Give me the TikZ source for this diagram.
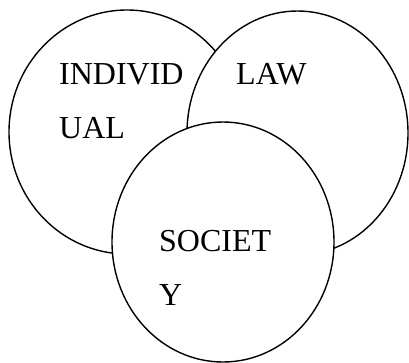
\documentclass[tikz,border=0pt]{standalone}
\usepackage{fontspec}
\setmainfont{Liberation Serif}
\usetikzlibrary{shapes.geometric}

\begin{document}
\begin{tikzpicture}[x=1pt, y=-1pt,
  ring/.style={draw, ellipse, line width=1.4pt, fill=white, inner sep=0pt},
  lbl/.style={anchor=base west, inner sep=0pt, align=left,
              font=\fontsize{32}{54}\selectfont}]
  \useasboundingbox (0,0) rectangle (409,362);
  \clip (0,0) rectangle (409,362);
  \node[ring, minimum width=236pt, minimum height=244pt] (indiv)   at (127,132)   {};
  \node[ring, minimum width=221pt, minimum height=244pt] (law)     at (297.5,133) {};
  \node[ring, minimum width=222pt, minimum height=240pt] (society) at (223,242)   {};
  % base anchor sits on the last line
  \node[lbl] (indivtxt)   at (59,138)  {INDIVID\\UAL};
  \node[lbl] (lawtxt)     at (236,84)  {LAW};
  \node[lbl] (societytxt) at (159,305) {SOCIET\\Y};
\end{tikzpicture}
\end{document}
